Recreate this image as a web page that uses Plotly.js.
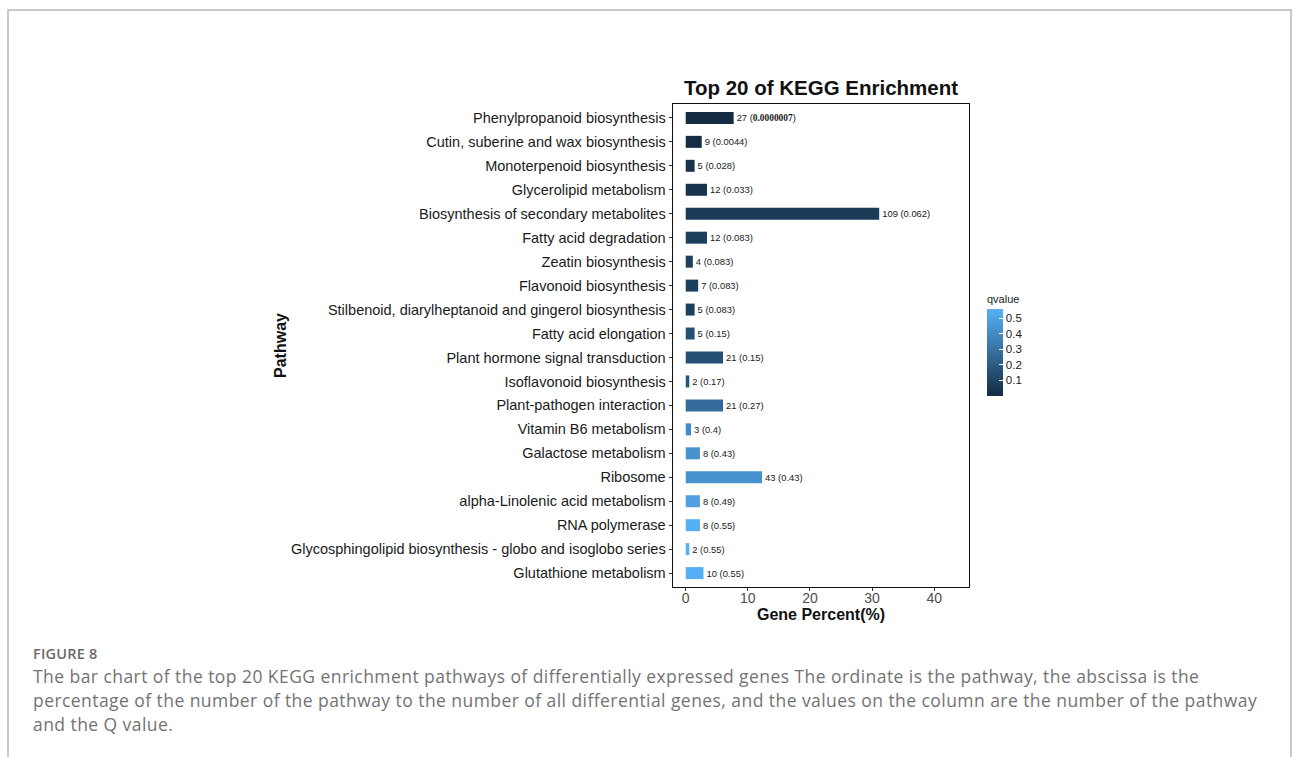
<!DOCTYPE html>
<html>
<head>
<meta charset="utf-8">
<script src="https://cdn.plot.ly/plotly-3.0.1.min.js"></script>
<style>
  html, body { margin: 0; padding: 0; background: #ffffff; }
  #wrap { position: relative; width: 1292px; height: 757px; overflow: hidden; }
  #frame { position: absolute; left: 7px; top: 9px; width: 1285px; height: 800px;
           border: 2px solid #c9c9c9; box-sizing: border-box; pointer-events: none; }
  #chart { position: absolute; left: 0; top: 0; width: 1292px; height: 757px; }
  .cap { position: absolute; left: 33px; font-family: "Open Sans", sans-serif; color: #737373;
         white-space: nowrap; }
  #figno { top: 644px; font-size: 14.5px; font-weight: 600; color: #6a6a6a; letter-spacing: 0.2px; }
  .body { font-size: 17.5px; letter-spacing: 0.44px; }
</style>
</head>
<body>
<div id="wrap">
  <div id="frame"></div>
  <div id="chart"></div>
  <div class="cap" id="figno">FIGURE 8</div>
  <div class="cap body" style="top:664px">The bar chart of the top 20 KEGG enrichment pathways of differentially expressed genes The ordinate is the pathway, the abscissa is the</div>
  <div class="cap body" style="top:688px">percentage of the number of the pathway to the number of all differential genes, and the values on the column are the number of the pathway</div>
  <div class="cap body" style="top:712px">and the Q value.</div>
</div>
<script>
// KEGG pathways, listed top to bottom
const pathways = [
  "Phenylpropanoid biosynthesis",
  "Cutin, suberine and wax biosynthesis",
  "Monoterpenoid biosynthesis",
  "Glycerolipid metabolism",
  "Biosynthesis of secondary metabolites",
  "Fatty acid degradation",
  "Zeatin biosynthesis",
  "Flavonoid biosynthesis",
  "Stilbenoid, diarylheptanoid and gingerol biosynthesis",
  "Fatty acid elongation",
  "Plant hormone signal transduction",
  "Isoflavonoid biosynthesis",
  "Plant-pathogen interaction",
  "Vitamin B6 metabolism",
  "Galactose metabolism",
  "Ribosome",
  "alpha-Linolenic acid metabolism",
  "RNA polymerase",
  "Glycosphingolipid biosynthesis - globo and isoglobo series",
  "Glutathione metabolism"
];

// number of differential genes in each pathway
const geneCounts = [27, 9, 5, 12, 109, 12, 4, 7, 5, 5, 21, 2, 21, 3, 8, 43, 8, 8, 2, 10];

// Q values as printed next to the bars
const qvalueText = ["0.0000007", "0.0044", "0.028", "0.033", "0.062", "0.083", "0.083", "0.083",
  "0.083", "0.15", "0.15", "0.17", "0.27", "0.4", "0.43", "0.43", "0.49", "0.55", "0.55", "0.55"];
const qvalues = qvalueText.map(Number);

// total annotated differential genes (denominator of Gene Percent)
const totalGenes = 350;
const genePercent = geneCounts.map(c => c / totalGenes * 100);

const colorbarTicks = [0.1, 0.2, 0.3, 0.4, 0.5];

const labels = geneCounts.map((c, i) => {
  const q = qvalues[i] < 0.001
    ? '<span style="font-family:Liberation Serif;font-weight:bold">' + qvalueText[i] + '</span>'
    : qvalueText[i];
  return c + ' (' + q + ')';
});

const trace = {
  type: 'bar',
  orientation: 'h',
  x: genePercent,
  y: pathways,
  width: 0.5,
  text: labels,
  textposition: 'outside',
  constraintext: 'none',
  cliponaxis: false,
  textfont: { family: 'Liberation Sans, Arial, sans-serif', size: 9.4, color: '#1a1a1a' },
  hoverinfo: 'y+x',
  marker: {
    color: qvalues,
    cmin: 0,
    cmax: 0.56,
    colorscale: [[0, '#132B43'], [1, '#56B1F7']],
    line: { width: 0 },
    showscale: true,
    colorbar: {
      title: { text: 'qvalue', side: 'top', font: { family: 'Liberation Sans, Arial', size: 11, color: '#1a1a1a' } },
      tickvals: colorbarTicks,
      ticktext: colorbarTicks.map(String),
      ticks: 'inside',
      ticklen: 4,
      tickcolor: '#ffffff',
      tickwidth: 1,
      ticklabelstandoff: 3,
      tickfont: { family: 'Liberation Sans, Arial', size: 11.5, color: '#1a1a1a' },
      outlinewidth: 0,
      thickness: 16,
      thicknessmode: 'pixels',
      len: 104,
      lenmode: 'pixels',
      x: (987 - 673) / 296,
      xanchor: 'left',
      xref: 'paper',
      y: (587 - 344) / 483,
      yanchor: 'middle',
      xpad: 0,
      ypad: 0
    }
  }
};

const layout = {
  width: 1292,
  height: 757,
  margin: { l: 673, r: 323, t: 104, b: 170, pad: 0 },
  paper_bgcolor: 'rgba(0,0,0,0)',
  plot_bgcolor: '#ffffff',
  showlegend: false,
  font: { family: 'Liberation Sans, Arial, sans-serif', color: '#1a1a1a' },
  title: {
    text: '<b>Top 20 of KEGG Enrichment</b>',
    font: { size: 20.5, color: '#111111' },
    x: 0.5, xref: 'paper', xanchor: 'center',
    y: 1 - 88 / 757, yref: 'container', yanchor: 'middle'
  },
  xaxis: {
    range: [-2.05, 45.6],
    tick0: 0,
    dtick: 10,
    ticks: 'outside',
    ticklen: 3,
    tickcolor: '#333333',
    ticklabelstandoff: -5,
    tickfont: { size: 14, color: '#4d4d4d' },
    showgrid: false,
    zeroline: false,
    showline: true,
    mirror: true,
    linecolor: '#111111',
    linewidth: 1.4,
    title: { text: '<b>Gene Percent(%)</b>', font: { size: 16, color: '#111111' }, standoff: 0 },
    fixedrange: true
  },
  yaxis: {
    type: 'category',
    categoryarray: pathways,
    categoryorder: 'array',
    range: [pathways.length - 0.42, -0.58],
    autorange: false,
    ticks: 'outside',
    ticklen: 3,
    tickcolor: '#333333',
    tickfont: { size: 14.5, color: '#1a1a1a' },
    showgrid: false,
    zeroline: false,
    showline: true,
    mirror: true,
    linecolor: '#111111',
    linewidth: 1.4,
    title: { text: '<b>Pathway</b>', font: { size: 16, color: '#111111' }, standoff: 0 },
    fixedrange: true
  }
};

Plotly.newPlot('chart', [trace], layout, { displayModeBar: false, staticPlot: true });
</script>
</body>
</html>
